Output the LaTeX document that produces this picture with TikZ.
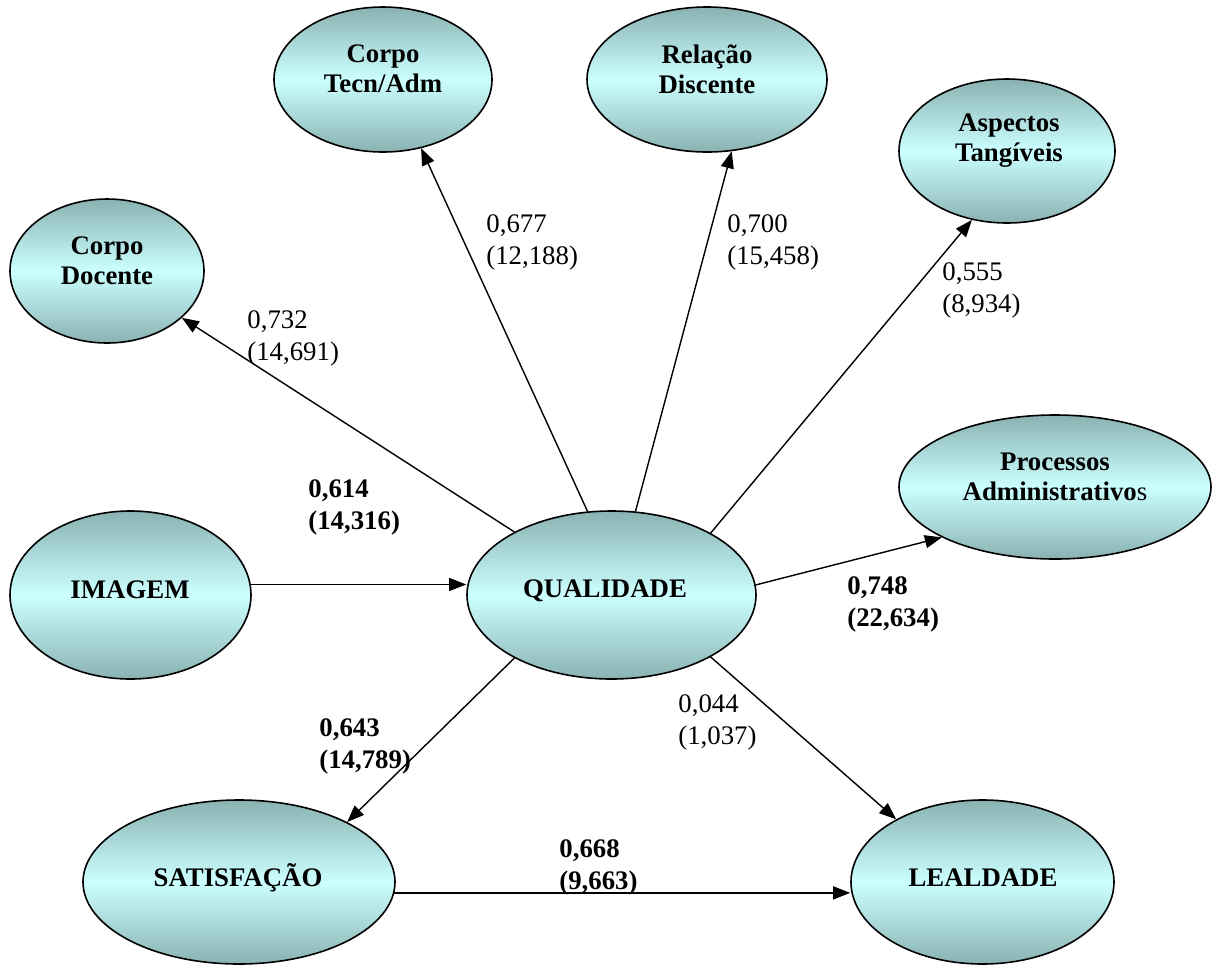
\documentclass[tikz,border=0pt]{standalone}
\usepackage{fontspec}
\setmainfont{Liberation Serif}
\usetikzlibrary{arrows.meta,shapes.geometric}
\definecolor{edgeteal}{RGB}{138,178,178}
\definecolor{midcyan}{RGB}{204,255,255}
\begin{document}
\begin{tikzpicture}[x=0.5pt,y=-0.5pt,
  ell/.style={ellipse, draw=black, line width=0.8pt, top color=edgeteal, bottom color=edgeteal, middle color=midcyan, inner sep=0pt},
  etxt/.style={font=\fontsize{13.4}{15}\selectfont\bfseries, align=center, inner sep=0pt},
  lbl/.style={font=\fontsize{13.4}{16}\selectfont, align=left, anchor=west, inner sep=0pt},
  blbl/.style={lbl, font=\fontsize{13.4}{16}\selectfont\bfseries},
  arr/.style={line width=0.7pt, -{Triangle[length=8.5pt,width=6.5pt]}}]
\useasboundingbox (0,0) rectangle (1212,966);

% ellipses
\node[ell, minimum width=97pt, minimum height=72pt] (cd) at (107,271) {};
\node[ell, minimum width=109pt, minimum height=72.5pt] (tec) at (383,79.5) {};
\node[ell, minimum width=120pt, minimum height=72.5pt] (rel) at (707,79.5) {};
\node[ell, minimum width=108pt, minimum height=72pt] (asp) at (1007,151) {};
\node[ell, minimum width=156pt, minimum height=72pt] (pro) at (1055,487) {};
\node[ell, minimum width=120.5pt, minimum height=84pt] (img) at (130.5,595) {};
\node[ell, minimum width=144.5pt, minimum height=84pt] (qual) at (611.5,595) {};
\node[ell, minimum width=156pt, minimum height=82pt] (sat) at (239,882) {};
\node[ell, minimum width=131.5pt, minimum height=82pt] (leal) at (982.5,882) {};

% ellipse texts
\node[etxt] (cdt) at (107,261) {Corpo\\Docente};
\node[etxt] (tect) at (383,69) {Corpo\\Tecn/Adm};
\node[etxt] (relt) at (707,69) {Relação\\Discente};
\node[etxt] (aspt) at (1009,141) {Aspectos\\Tangíveis};
\node[etxt] (prot) at (1055,477) {Processos\\Administrativo\textmd{s}};
\node[etxt] (imgt) at (130,590) {IMAGEM};
\node[etxt] (qualt) at (605,591) {QUALIDADE};
\node[etxt] (satt) at (238,878) {SATISFAÇÃO};
\node[etxt] (lealt) at (983,878) {LEALDADE};

% connectors
\draw[arr] (qual.147.7) -- (cd.-32.5);
\draw[arr] (qual.106.3) -- (tec.-61.9);
\draw[arr] (qual.74.4) -- (rel.-71.1);
\draw[arr] (qual.32.9) -- (asp.-117.8);
\draw[arr] (qual.4.7) -- (pro.-156.4);
\draw[arr] (qual.-32.6) -- (leal.144.3);
\draw[arr] (qual.-147.7) -- (sat.29.9);
\draw[arr] (img.5.2) -- (img.5.2 -| qual.west);
\draw[arr] (sat.-4) -- (sat.-4 -| leal.west);

% labels
\node[lbl] (l1) at (247,338.5) {0,732\\(14,691)};
\node[lbl] (l2) at (486,242.5) {0,677\\(12,188)};
\node[lbl] (l3) at (727,242.5) {0,700\\(15,458)};
\node[lbl] (l4) at (942,290.5) {0,555\\(8,934)};
\node[blbl] (l5) at (308,507.5) {0,614\\(14,316)};
\node[blbl] (l6) at (847,604) {0,748\\(22,634)};
\node[blbl] (l7) at (319,746.5) {0,643\\(14,789)};
\node[lbl] (l8) at (678,722.5) {0,044\\(1,037)};
\node[blbl] (l9) at (559,867.5) {0,668\\(9,663)};
\end{tikzpicture}
\end{document}
